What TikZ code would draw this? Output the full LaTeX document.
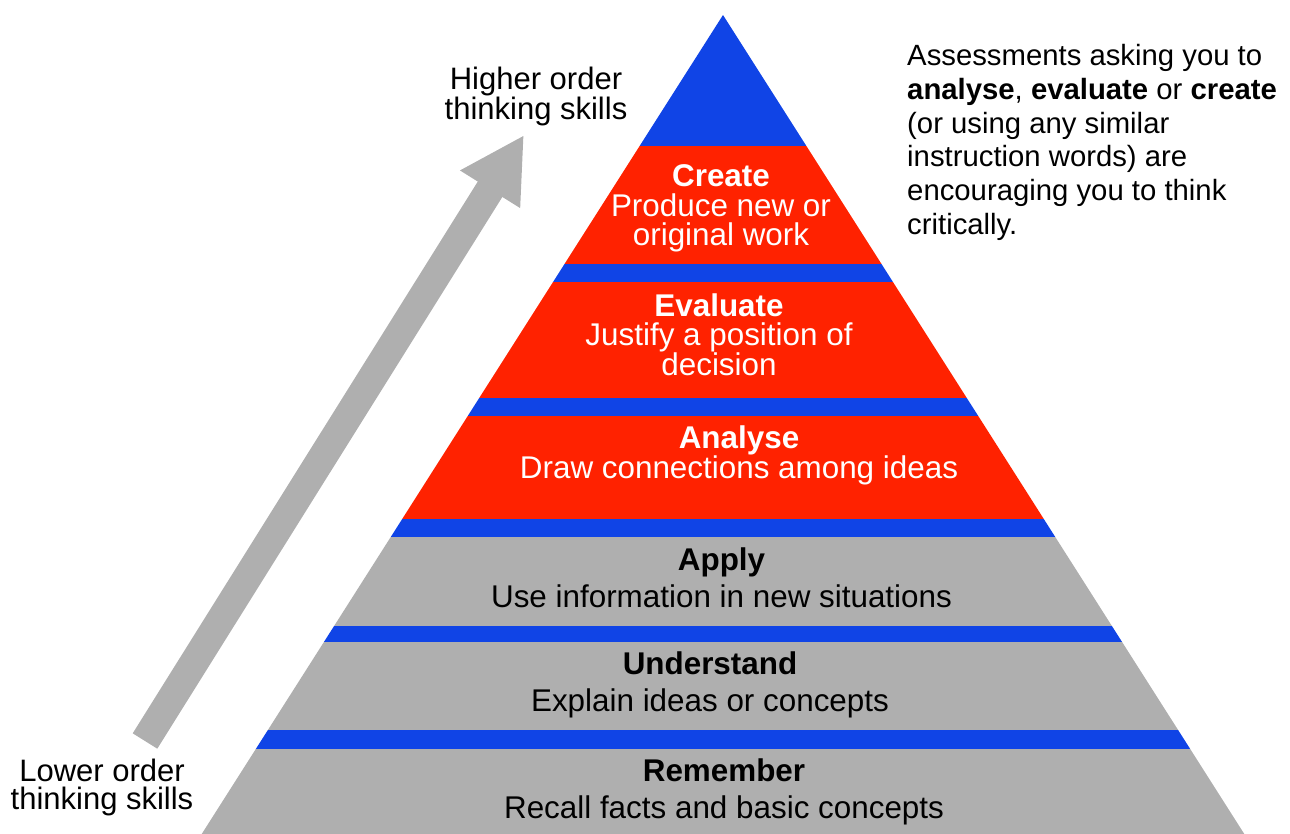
\documentclass[tikz,border=0pt]{standalone}
\usepackage{fontspec}
\setmainfont{Liberation Sans}
\usetikzlibrary{arrows.meta}
\definecolor{tierblue}{RGB}{16,68,230}
\definecolor{tierred}{RGB}{255,34,0}
\definecolor{tiergray}{RGB}{175,175,175}

\begin{document}
\begin{tikzpicture}[x=1pt,y=-1pt,
  tiertext/.style={align=center,inner sep=0pt,anchor=north},
  redtier/.style={tiertext,text=white,font=\fontsize{31.4}{29.5}\selectfont},
  graytier/.style={tiertext,text=black,font=\fontsize{31.4}{37}\selectfont},
  sidelabel/.style={align=center,inner sep=0pt,anchor=north,font=\fontsize{31}{27.5}\selectfont}]
\useasboundingbox (0,0) rectangle (1290,834);

% pyramid
\coordinate (apex) at (723,15);
\coordinate (baseleft) at (201.7,834);
\coordinate (baseright) at (1244.3,834);
\begin{scope}
  \clip (apex) -- (baseleft) -- (baseright) -- cycle;
  \foreach \ytop/\ybot/\tint in {15/146/tierblue, 146/264/tierred, 264/282/tierblue,
      282/398/tierred, 398/416/tierblue, 416/519/tierred, 519/537/tierblue,
      537/626/tiergray, 626/642/tierblue, 642/730/tiergray, 730/749/tierblue,
      749/834/tiergray}
    \fill[\tint] (0,\ytop) rectangle (1290,\ybot);
\end{scope}

\node[redtier] (create) at (721,164.5) {\textbf{Create}\\Produce new or\\original work};
\node[redtier] (evaluate) at (719,293.5) {\textbf{Evaluate}\\Justify a position of\\decision};
\node[redtier] (analyse) at (739,426) {\textbf{Analyse}\\Draw connections among ideas};
\node[graytier] (apply) at (721.5,547.5) {\textbf{Apply}\\Use information in new situations};
\node[graytier] (understand) at (710,651.5) {\textbf{Understand}\\Explain ideas or concepts};
\node[graytier] (remember) at (724,758.5) {\textbf{Remember}\\Recall facts and basic concepts};

% arrow
\coordinate (lowend) at (145,741);
\coordinate (highend) at (524,135);
\draw[tiergray,line width=29pt,-{Triangle[length=64pt,width=66pt]}] (lowend) -- (highend);

\node[sidelabel] (higher) at (536,67) {Higher order\\thinking skills};
\node[sidelabel] (lower) at (102,759) {Lower order\\thinking skills};

\node[align=left,inner sep=0pt,anchor=north west,font=\fontsize{29.3}{33.8}\selectfont] (note) at (907,44)
  {Assessments asking you to\\\textbf{analyse}, \textbf{evaluate} or \textbf{create}\\(or using any similar\\instruction words) are\\encouraging you to think\\critically.};
\end{tikzpicture}
\end{document}
